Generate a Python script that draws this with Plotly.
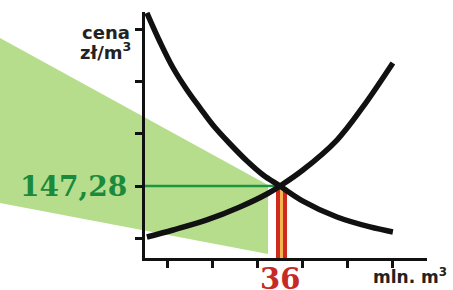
import plotly.graph_objects as go

# ---- data ----
demand_q = [0.5, 4.0, 7.5, 11.2, 14.7, 18.1, 22.7, 27.2, 31.5, 36.0, 42.1, 51.2, 60.0, 66.1]
demand_p = [312.9, 285.1, 260.2, 239.2, 221.9, 205.7, 187.5, 171.2, 157.8, 147.28, 132.9, 117.6, 108.1, 103.3]
supply_q = [0.5, 7.5, 16.5, 25.3, 32.5, 36.0, 42.1, 51.2, 58.1, 66.1]
supply_p = [98.5, 105.2, 114.8, 127.2, 139.6, 147.28, 162.6, 191.3, 222.9, 265.0]
area_q = [-38.7, 32.8, 32.8, -38.7]
area_p = [288.9, 148.2, 82.2, 131.0]
eq_q = 36.0
eq_p = 147.28
eq_label_q = "36"
eq_label_p = "147,28"
x_title = "mln. m<sup>3</sup>"
y_title_1 = "cena"
y_title_2 = "zł/m<sup>3</sup>"

W, H = 453, 290
X_MAX = 75.2
Y_MIN, Y_MAX = 78.4, 313.8

fig = go.Figure()

# green area (wide hidden axis so it can extend left of the y axis)
fig.add_trace(go.Scatter(
    x=area_q + [area_q[0]], y=area_p + [area_p[0]], xaxis="x", yaxis="y",
    mode="lines", fill="toself", fillcolor="rgb(182,221,140)",
    line=dict(width=0), hoverinfo="skip", showlegend=False))

# green price line
fig.add_trace(go.Scatter(
    x=[0, eq_q], y=[eq_p, eq_p], xaxis="x2", yaxis="y", mode="lines",
    line=dict(color="#1e9640", width=2.5), showlegend=False))

# red/yellow quantity bar
fig.add_trace(go.Scatter(
    x=[eq_q + 0.4, eq_q + 0.4], y=[Y_MIN, eq_p - 1.5], xaxis="x2", yaxis="y",
    mode="lines", line=dict(color="#cf2a20", width=11), showlegend=False))
fig.add_trace(go.Scatter(
    x=[eq_q + 0.4, eq_q + 0.4], y=[Y_MIN, eq_p - 1.5], xaxis="x2", yaxis="y",
    mode="lines", line=dict(color="#f3b552", width=3), showlegend=False))

# curves
fig.add_trace(go.Scatter(
    x=demand_q, y=demand_p, xaxis="x2", yaxis="y", mode="lines",
    line=dict(color="#111111", width=5.5, shape="spline", smoothing=1.0),
    showlegend=False))
fig.add_trace(go.Scatter(
    x=supply_q, y=supply_p, xaxis="x2", yaxis="y", mode="lines",
    line=dict(color="#111111", width=5.5, shape="spline", smoothing=1.0),
    showlegend=False))

x0 = 145 / W
x1 = 427 / W
y0 = (H - 258) / H
y1 = (H - 12) / H
px_per_q = (427 - 145) / X_MAX

fig.update_layout(
    width=W, height=H,
    margin=dict(l=0, r=0, t=0, b=0),
    paper_bgcolor="white", plot_bgcolor="rgba(0,0,0,0)",
    xaxis=dict(domain=[0, x1], range=[-145 / px_per_q, X_MAX], visible=False,
               anchor="y"),
    xaxis2=dict(domain=[x0, x1], range=[0, X_MAX], anchor="y",
                showline=True, linecolor="#111111", linewidth=3,
                ticks="outside", ticklen=7, tickwidth=2.5, tickcolor="#111111",
                tick0=6, dtick=12, showticklabels=False, showgrid=False,
                zeroline=False),
    yaxis=dict(domain=[y0, y1], range=[Y_MIN, Y_MAX], anchor="x2",
               showline=True, linecolor="#111111", linewidth=3,
               ticks="outside", ticklen=7, tickwidth=2.5, tickcolor="#111111",
               tick0=eq_p, dtick=50, showticklabels=False, showgrid=False,
               zeroline=False),
    annotations=[
        dict(text="<b>" + eq_label_p + "</b>", xref="paper", yref="y",
             x=73 / W, y=eq_p, showarrow=False, xanchor="center",
             yanchor="middle",
             font=dict(family="DejaVu Serif", size=28, color="#1a8a3c")),
        dict(text="<b>" + eq_label_q + "</b>", xref="x2", yref="paper",
             x=eq_q, y=(H - 279) / H, showarrow=False, xanchor="center",
             yanchor="middle",
             font=dict(family="DejaVu Serif", size=29, color="#c62a26")),
        dict(text="<b>" + y_title_1 + "</b>", xref="paper", yref="paper",
             x=106 / W, y=(H - 32) / H, showarrow=False,
             xanchor="center", yanchor="middle",
             font=dict(family="DejaVu Sans", size=18, color="#222222")),
        dict(text="<b>" + y_title_2 + "</b>", xref="paper", yref="paper",
             x=105 / W, y=(H - 51) / H, showarrow=False,
             xanchor="center", yanchor="middle",
             font=dict(family="DejaVu Sans", size=18, color="#222222")),
        dict(text="<b>" + x_title + "</b>", xref="paper", yref="paper",
             x=410 / W, y=(H - 276) / H, showarrow=False,
             xanchor="center", yanchor="middle",
             font=dict(family="DejaVu Sans", size=17, color="#222222")),
    ],
)

fig.write_html("out.html", config={"displayModeBar": False},
               post_script="document.body.style.margin='0px';")
